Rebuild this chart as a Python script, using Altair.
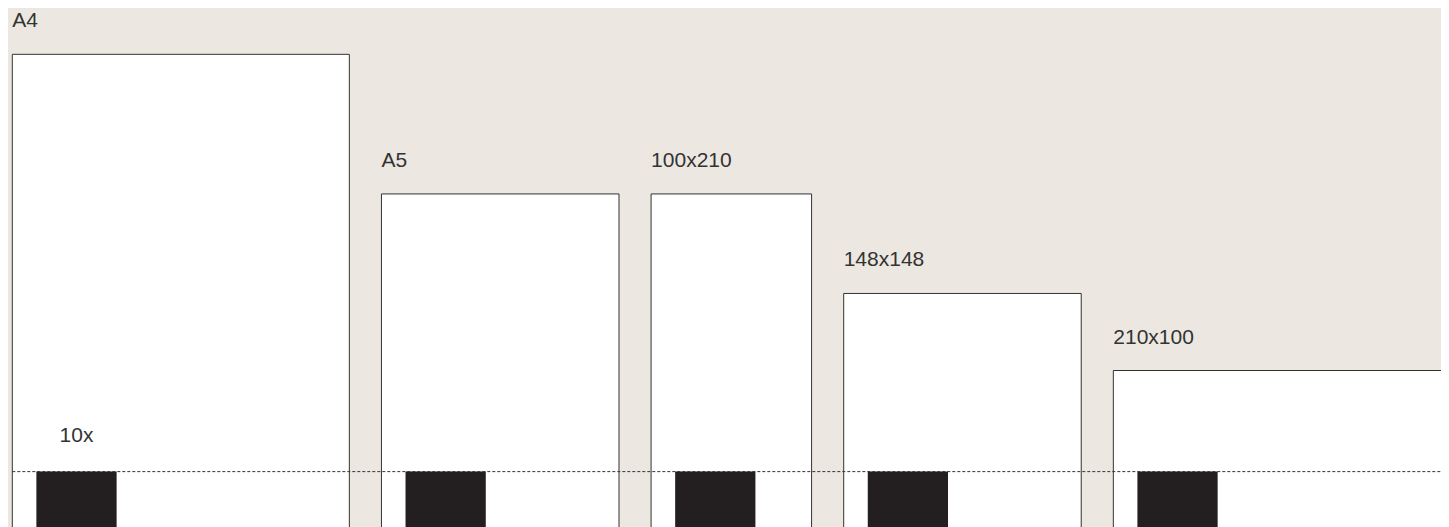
import altair as alt
import pandas as pd

# ---- data (mm) ----
names = ["A4", "A5", "100x210", "148x148", "210x100"]
paper_w = [210, 148, 100, 148, 210]
paper_h = [297, 210, 210, 148, 100]
gap_mm = 20
mark_offset = 15
mark_size = 50
mark_top = 37
mark_label = "10x"

# layout positions from widths and gap
x0 = []
acc = 0
for w in paper_w:
    x0.append(acc)
    acc += w + gap_mm

papers = pd.DataFrame({
    "name": names,
    "x0": x0,
    "x1": [a + w for a, w in zip(x0, paper_w)],
    "y0": [0] * len(names),
    "y1": paper_h,
})
squares = pd.DataFrame({
    "x0": [a + mark_offset for a in x0],
    "x1": [a + mark_offset + mark_size for a in x0],
    "y0": [mark_top - mark_size] * len(names),
    "y1": [mark_top] * len(names),
})
rule_df = pd.DataFrame({"x0": [0], "x1": [acc + 40], "y": [mark_top]})
mark_lbl = pd.DataFrame({"x": [x0[0] + mark_offset + mark_size / 2], "y": [mark_top], "t": [mark_label]})

# ---- pixel mapping ----
S = 1.605
W, H = 1433, 519
left_px = 4.3
bottom_px = 523.0
xs = alt.Scale(domain=[-left_px / S, (W - left_px) / S], nice=False, zero=False)
ys = alt.Scale(domain=[(bottom_px - H) / S, bottom_px / S], nice=False, zero=False)

FONT = "Liberation Sans"
INK = "#333333"

rects = alt.Chart(papers).mark_rect(fill="white", stroke=INK, strokeWidth=1, clip=True).encode(
    x=alt.X("x0:Q", scale=xs, axis=None),
    x2="x1:Q",
    y=alt.Y("y0:Q", scale=ys, axis=None),
    y2="y1:Q",
)

sq = alt.Chart(squares).mark_rect(fill="#231f20", clip=True).encode(
    x=alt.X("x0:Q", scale=xs, axis=None),
    x2="x1:Q",
    y=alt.Y("y0:Q", scale=ys, axis=None),
    y2="y1:Q",
)

rule = alt.Chart(rule_df).mark_rule(color=INK, strokeWidth=1, strokeDash=[3, 2], clip=True).encode(
    x=alt.X("x0:Q", scale=xs, axis=None),
    x2="x1:Q",
    y=alt.Y("y:Q", scale=ys, axis=None),
)

labels = alt.Chart(papers).mark_text(
    align="left", baseline="alphabetic", dy=-27, font=FONT, fontSize=21, color=INK
).encode(
    x=alt.X("x0:Q", scale=xs, axis=None),
    y=alt.Y("y1:Q", scale=ys, axis=None),
    text="name:N",
)

mlabel = alt.Chart(mark_lbl).mark_text(
    align="center", baseline="alphabetic", dy=-30, font=FONT, fontSize=21, color=INK
).encode(
    x=alt.X("x:Q", scale=xs, axis=None),
    y=alt.Y("y:Q", scale=ys, axis=None),
    text="t:N",
)

chart = alt.layer(rects, sq, rule, labels, mlabel).properties(
    width=W, height=H, autosize=alt.AutoSizeParams(type="none"), padding=0
).configure(background="#ece8e1").configure_view(stroke=None)

chart.save("out.html", embed_options={"renderer": "svg", "actions": False})
